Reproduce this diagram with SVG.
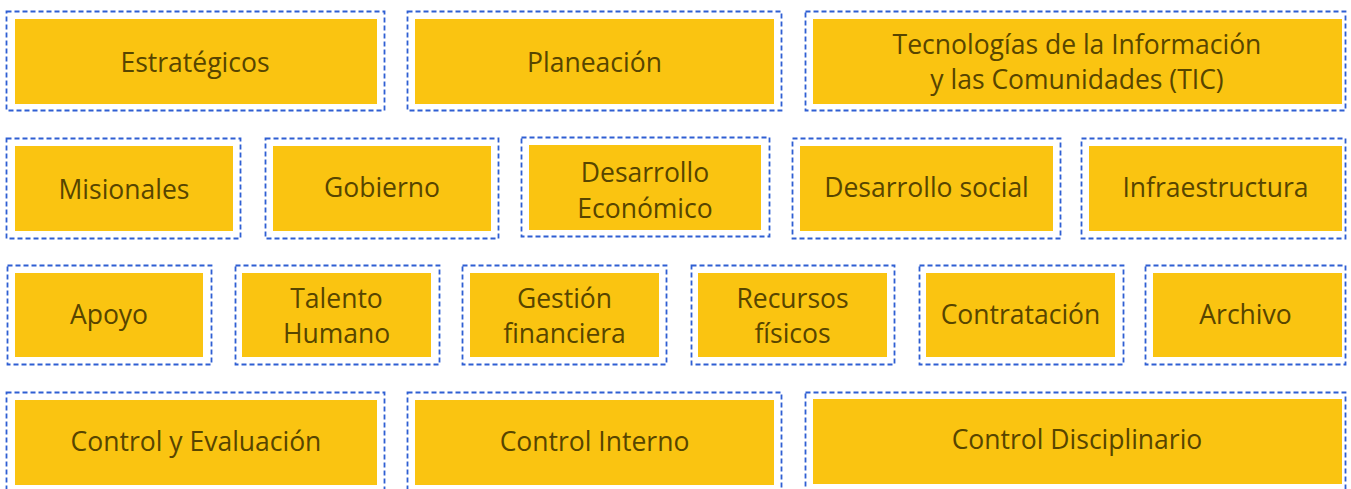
<svg xmlns="http://www.w3.org/2000/svg" width="1351" height="489" viewBox="0 0 1351 489">
<style>
.o{fill:none;stroke:#2f5fd3;stroke-width:1.8;stroke-dasharray:5 3}
.b{fill:#fac411}
.t{font-family:"Open Sans","Noto Sans",sans-serif;font-size:26.5px;fill:#574500;text-anchor:middle;dominant-baseline:central}
</style>
<rect width="1351" height="489" fill="#ffffff"/>
<g id="estrategicos"><rect class="o" x="6.5" y="11.5" width="378" height="99"/><rect class="b" x="15" y="19" width="362" height="85"/><text class="t" x="195" y="61.5">Estratégicos</text></g>
<g id="planeacion"><rect class="o" x="407.5" y="11.5" width="374" height="99"/><rect class="b" x="415" y="19" width="359" height="85"/><text class="t" x="594.5" y="61.5">Planeación</text></g>
<g id="tic"><rect class="o" x="805.5" y="11.5" width="540" height="99"/><rect class="b" x="813" y="19" width="529" height="85"/><text class="t" x="1077" y="43.5">Tecnologías de la Información</text><text class="t" x="1077" y="78.5">y las Comunidades (TIC)</text></g>
<g id="misionales"><rect class="o" x="6.5" y="138.5" width="234" height="100"/><rect class="b" x="15" y="146" width="218" height="85"/><text class="t" x="124" y="189">Misionales</text></g>
<g id="gobierno"><rect class="o" x="265.5" y="138.5" width="233" height="100"/><rect class="b" x="273" y="146" width="218" height="85"/><text class="t" x="382" y="187">Gobierno</text></g>
<g id="desarrollo-economico"><rect class="o" x="521.5" y="137.5" width="248" height="99"/><rect class="b" x="529" y="145" width="232" height="85"/><text class="t" x="645" y="171.5">Desarrollo</text><text class="t" x="645" y="207.5">Económico</text></g>
<g id="desarrollo-social"><rect class="o" x="792.5" y="138.5" width="268" height="100"/><rect class="b" x="800" y="146" width="253" height="85"/><text class="t" x="926.5" y="187">Desarrollo social</text></g>
<g id="infraestructura"><rect class="o" x="1081.5" y="138.5" width="264" height="100"/><rect class="b" x="1089" y="146" width="253" height="85"/><text class="t" x="1215.5" y="187">Infraestructura</text></g>
<g id="apoyo"><rect class="o" x="7.5" y="265.5" width="204" height="99"/><rect class="b" x="15" y="273" width="188" height="84"/><text class="t" x="109" y="314">Apoyo</text></g>
<g id="talento-humano"><rect class="o" x="235.5" y="265.5" width="204" height="99"/><rect class="b" x="242" y="273" width="189" height="84"/><text class="t" x="336.5" y="297.5">Talento</text><text class="t" x="336.5" y="332.5">Humano</text></g>
<g id="gestion-financiera"><rect class="o" x="462.5" y="265.5" width="204" height="99"/><rect class="b" x="470" y="273" width="189" height="84"/><text class="t" x="564.5" y="297.5">Gestión</text><text class="t" x="564.5" y="332.5">financiera</text></g>
<g id="recursos-fisicos"><rect class="o" x="691.5" y="265.5" width="203" height="99"/><rect class="b" x="698" y="273" width="189" height="84"/><text class="t" x="792.5" y="297.5">Recursos</text><text class="t" x="792.5" y="332.5">físicos</text></g>
<g id="contratacion"><rect class="o" x="919.5" y="265.5" width="204" height="99"/><rect class="b" x="926" y="273" width="189" height="84"/><text class="t" x="1020.5" y="314">Contratación</text></g>
<g id="archivo"><rect class="o" x="1145.5" y="265.5" width="200" height="99"/><rect class="b" x="1153" y="273" width="189" height="84"/><text class="t" x="1245.5" y="314">Archivo</text></g>
<g id="control-evaluacion"><rect class="o" x="6.5" y="392.5" width="378" height="99"/><rect class="b" x="15" y="400" width="362" height="85"/><text class="t" x="196" y="441">Control y Evaluación</text></g>
<g id="control-interno"><rect class="o" x="407.5" y="392.5" width="374" height="99"/><rect class="b" x="415" y="400" width="359" height="85"/><text class="t" x="594.5" y="441">Control Interno</text></g>
<g id="control-disciplinario"><rect class="o" x="805.5" y="392.5" width="540" height="99"/><rect class="b" x="813" y="399" width="529" height="85"/><text class="t" x="1077" y="439">Control Disciplinario</text></g>
<g id="connectors"></g>
</svg>
